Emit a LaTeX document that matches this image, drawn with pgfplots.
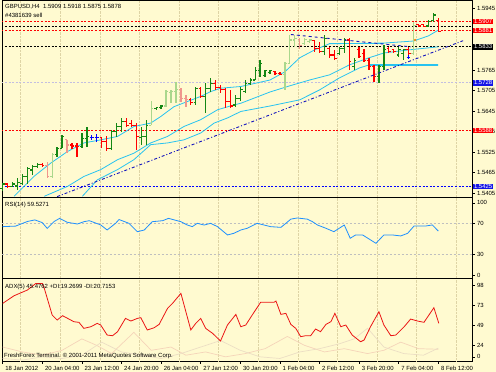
\documentclass[border=0pt]{standalone}
\usepackage{fontspec}
\setmainfont{Liberation Sans}
\usepackage{pgfplots}
\pgfplotsset{compat=1.18}
\usepackage{pgfplotstable}

\definecolor{bg}{RGB}{255,250,208}
\definecolor{gup}{RGB}{20,135,20}
\definecolor{gfade}{RGB}{170,215,140}
\definecolor{rdn}{RGB}{255,0,0}
\definecolor{rfade}{RGB}{240,150,140}
\definecolor{bbar}{RGB}{0,0,255}
\definecolor{macol}{RGB}{40,195,240}
\definecolor{rsicol}{RGB}{30,144,255}
\definecolor{adxcol}{RGB}{235,20,20}
\definecolor{gridc}{RGB}{222,212,165}
\definecolor{lav}{RGB}{195,190,225}
\definecolor{trend}{RGB}{20,20,190}
\definecolor{lblblue}{RGB}{20,20,230}
\definecolor{dip}{RGB}{245,212,185}
\definecolor{dim}{RGB}{236,222,196}

\pgfdeclareplotmark{otick}{\pgfpathmoveto{\pgfqpoint{-2.2bp}{0pt}}\pgfpathlineto{\pgfqpoint{0pt}{0pt}}\pgfusepathqstroke}
\pgfdeclareplotmark{ctick}{\pgfpathmoveto{\pgfqpoint{0pt}{0pt}}\pgfpathlineto{\pgfqpoint{2.2bp}{0pt}}\pgfusepathqstroke}

% i open high low close
\pgfplotstableread{
i o h l c
0 1.5419 1.5436 1.5410 1.5432
2 1.5424 1.5439 1.5424 1.5432
3 1.5426 1.5449 1.5415 1.5436
4 1.5434 1.5461 1.5429 1.5453
5 1.5453 1.5483 1.5432 1.5478
6 1.5473 1.5488 1.5458 1.5483
7 1.5483 1.5492 1.5478 1.5488
11 1.5517 1.5541 1.5512 1.5536
12 1.5536 1.5575 1.5536 1.5570
16 1.5541 1.5580 1.5536 1.5565
17 1.5565 1.5599 1.5541 1.5570
22 1.5536 1.5590 1.5531 1.5585
23 1.5585 1.5611 1.5570 1.5599
24 1.5599 1.5624 1.5585 1.5614
28 1.5568 1.5599 1.5546 1.5572
29 1.5572 1.5619 1.5546 1.5604
31 1.5653 1.5658 1.5648 1.5655
32 1.5655 1.5663 1.5653 1.5660
39 1.5670 1.5716 1.5663 1.5712
41 1.5687 1.5728 1.5639 1.5712
42 1.5712 1.5741 1.5702 1.5726
47 1.5663 1.5692 1.5658 1.5682
48 1.5682 1.5716 1.5676 1.5707
49 1.5702 1.5736 1.5697 1.5726
50 1.5726 1.5741 1.5721 1.5736
51 1.5736 1.5775 1.5736 1.5765
52 1.5765 1.5794 1.5746 1.5785
53 1.5750 1.5765 1.5746 1.5764
54 1.5757 1.5765 1.5755 1.5763
65 1.5819 1.5867 1.5809 1.5858
68 1.5814 1.5833 1.5809 1.5828
69 1.5828 1.5858 1.5814 1.5853
71 1.5775 1.5799 1.5765 1.5794
76 1.5746 1.5780 1.5728 1.5775
77 1.5775 1.5838 1.5764 1.5824
80 1.5809 1.5833 1.5804 1.5824
81 1.5814 1.5828 1.5794 1.5824
86 1.5894 1.5911 1.5892 1.5906
87 1.5911 1.5931 1.5906 1.5926
}\tG
\pgfplotstableread{
i o h l c
10 1.5453 1.5522 1.5449 1.5517
30 1.5604 1.5676 1.5604 1.5653
33 1.5660 1.5707 1.5658 1.5702
34 1.5700 1.5707 1.5668 1.5702
35 1.5702 1.5731 1.5668 1.5707
57 1.5752 1.5790 1.5707 1.5785
58 1.5785 1.5867 1.5785 1.5853
59 1.5853 1.5867 1.5833 1.5858
61 1.5843 1.5858 1.5838 1.5855
62 1.5848 1.5855 1.5843 1.5853
83 1.5814 1.5906 1.5809 1.5896
}\tGf
\pgfplotstableread{
i o h l c
1 1.5432 1.5434 1.5419 1.5424
8 1.5488 1.5492 1.5481 1.5485
14 1.5546 1.5551 1.5533 1.5543
15 1.5543 1.5551 1.5512 1.5541
20 1.5568 1.5570 1.5536 1.5556
21 1.5556 1.5572 1.5529 1.5536
25 1.5614 1.5624 1.5599 1.5604
26 1.5608 1.5619 1.5599 1.5604
27 1.5604 1.5609 1.5531 1.5570
38 1.5678 1.5682 1.5663 1.5670
40 1.5712 1.5716 1.5682 1.5687
43 1.5726 1.5736 1.5707 1.5715
44 1.5715 1.5721 1.5697 1.5707
45 1.5707 1.5712 1.5653 1.5673
46 1.5673 1.5707 1.5653 1.5660
55 1.5761 1.5763 1.5750 1.5755
56 1.5755 1.5760 1.5750 1.5752
63 1.5851 1.5853 1.5819 1.5828
64 1.5828 1.5848 1.5814 1.5819
66 1.5828 1.5833 1.5799 1.5809
67 1.5809 1.5824 1.5794 1.5799
70 1.5853 1.5858 1.5764 1.5790
72 1.5824 1.5833 1.5799 1.5804
73 1.5814 1.5828 1.5790 1.5794
74 1.5794 1.5799 1.5765 1.5775
75 1.5775 1.5780 1.5731 1.5746
78 1.5828 1.5833 1.5814 1.5819
79 1.5824 1.5828 1.5814 1.5819
82 1.5824 1.5833 1.5809 1.5814
84 1.5897 1.5901 1.5892 1.5894
85 1.5897 1.5900 1.5890 1.5892
88 1.5909 1.5918 1.5875 1.5878
}\tR
\pgfplotstableread{
i o h l c
9 1.5485 1.5497 1.5449 1.5453
13 1.5561 1.5561 1.5522 1.5546
36 1.5707 1.5712 1.5673 1.5682
37 1.5682 1.5692 1.5658 1.5678
60 1.5855 1.5858 1.5828 1.5838
}\tRf
\pgfplotstableread{
i o h l c
18 1.5568 1.5575 1.5561 1.5568
19 1.5568 1.5578 1.5556 1.5568
}\tB

\tikzset{
  lbl/.style={anchor=west, xshift=0.6bp, text=white, inner xsep=1.2bp, inner ysep=0.7bp, font=\fontsize{6}{7}\selectfont},
}
\pgfplotsset{
  mt/.style={
    scale only axis, width=470bp, xmin=-0.14, xmax=94.8,
    axis line style={black, line width=1bp},
    axis background/.style={fill=bg},
    tick style={black, line width=0.6bp},
    tick align=outside, major tick length=2.5bp,
    ytick pos=right, yticklabel pos=right,
    tick label style={font=\fontsize{6}{7}\selectfont},
    yticklabel style={xshift=-1bp},
    /pgf/number format/assume math mode=true,
    scaled y ticks=false,
    clip mode=individual,
    extra x ticks={3.6,11.6,19.6,27.6,35.6,43.6,51.6,59.6,67.6,75.6,83.6,91.6},
    extra x tick labels={},
    extra x tick style={grid=major, major tick length=0pt},
    major grid style={gridc, densely dotted, line width=0.4bp},
  },
  bar/.style={only marks, #1, mark=otick, mark options={line width=1.1bp},
    error bars/.cd, y dir=both, y explicit, error mark=none,
    error bar style={line width=1.3bp, #1}},
  cbar/.style={only marks, #1, mark=ctick, mark options={line width=1.1bp}},
  lvl/.style={line width=0.8bp, dash pattern=on 2bp off 1.6bp},
}

\begin{document}
\begin{tikzpicture}
\fill[bg] (0,0) rectangle (496bp,372bp);

% ---------- main price panel ----------
\begin{axis}[mt, at={(2bp,174bp)}, anchor=south west, height=197bp,
  ymin=1.5391, ymax=1.5967, xtick=\empty,
  ytick={1.5405,1.5465,1.5525,1.5585,1.5645,1.5705,1.5765,1.5825,1.5885,1.5945},
  yticklabels={1.5405,1.5465,1.5525,1.5585,1.5645,1.5705,1.5765,,,1.5945}]
\addplot[rdn, lvl] coordinates {(-1,1.5907) (96,1.5907)};
\addplot[black, lvl] coordinates {(-1,1.5893) (96,1.5893)};
\addplot[rdn, lvl] coordinates {(-1,1.5881) (96,1.5881)};
\addplot[black, lvl] coordinates {(-1,1.5833) (96,1.5833)};
\addplot[lav, lvl] coordinates {(-1,1.5728) (96,1.5728)};
\addplot[rdn, lvl] coordinates {(-1,1.5588) (96,1.5588)};
\addplot[bbar, lvl] coordinates {(-1,1.5425) (96,1.5425)};
% moving averages
\addplot[macol, line width=0.8bp] coordinates {
(2.3,1.5396) (6.3,1.5454) (9.7,1.5493) (13.1,1.5527) (16.4,1.5552) (19.8,1.5561)
(23.2,1.5571) (26.5,1.5600) (29.9,1.5610) (31.9,1.5629) (34.6,1.5658) (37.3,1.5673)
(40,1.5688) (42,1.5702) (44,1.5712) (48.1,1.5717) (54,1.5736) (57,1.5760)
(60,1.5801) (63,1.5824) (66,1.5842) (77,1.5844) (83,1.5850) (86,1.5865) (88,1.5882)};
\addplot[macol, line width=0.8bp] coordinates {
(8.4,1.5396) (13.1,1.5425) (16.4,1.5454) (19.8,1.5474) (23.2,1.5503) (26.5,1.5522)
(29.9,1.5552) (33.3,1.5571) (36.6,1.5600) (40,1.5620) (43.4,1.5649) (46.7,1.5663)
(48.1,1.5668) (54,1.5701) (58,1.5719) (62,1.5736) (66,1.5751) (70,1.5780)
(74,1.5801) (77,1.5815) (82,1.5824) (88,1.5833)};
\addplot[macol, line width=0.8bp] coordinates {
(16.1,1.5396) (19.1,1.5444) (23.2,1.5474) (26.5,1.5503) (29.9,1.5547) (33.3,1.5552)
(36.6,1.5561) (40,1.5581) (42.7,1.5610) (45.4,1.5625) (48.1,1.5644) (54,1.5660)
(60,1.5678) (64,1.5707) (68,1.5742) (72,1.5771) (74,1.5780) (88,1.5780)};
\addplot[macol, line width=1.8bp] coordinates {(66,1.5843) (77,1.5843)};
\addplot[macol, line width=1.8bp] coordinates {(74,1.5780) (88,1.5780)};
% bars
\addplot[bar=gfade] table[x=i, y=o, y error plus expr=\thisrow{h}-\thisrow{o}, y error minus expr=\thisrow{o}-\thisrow{l}] {\tGf};
\addplot[cbar=gfade] table[x=i, y=c] {\tGf};
\addplot[bar=rfade] table[x=i, y=o, y error plus expr=\thisrow{h}-\thisrow{o}, y error minus expr=\thisrow{o}-\thisrow{l}] {\tRf};
\addplot[cbar=rfade] table[x=i, y=c] {\tRf};
\addplot[bar=gup] table[x=i, y=o, y error plus expr=\thisrow{h}-\thisrow{o}, y error minus expr=\thisrow{o}-\thisrow{l}] {\tG};
\addplot[cbar=gup] table[x=i, y=c] {\tG};
\addplot[bar=rdn] table[x=i, y=o, y error plus expr=\thisrow{h}-\thisrow{o}, y error minus expr=\thisrow{o}-\thisrow{l}] {\tR};
\addplot[cbar=rdn] table[x=i, y=c] {\tR};
\addplot[bar=bbar] table[x=i, y=o, y error plus expr=\thisrow{h}-\thisrow{o}, y error minus expr=\thisrow{o}-\thisrow{l}] {\tB};
\addplot[cbar=bbar] table[x=i, y=c] {\tB};
% trend lines
\addplot[trend, line width=0.9bp, dash pattern=on 3bp off 2bp on 1bp off 2bp] coordinates {(11,1.5395) (93,1.5851)};
\addplot[trend, line width=0.9bp, dash pattern=on 3bp off 3bp] coordinates {(58.2,1.5869) (82.4,1.5833)};
\addplot[only marks, bbar, mark=+, mark size=1.6bp, line width=0.8bp] coordinates {(81.9,1.5803)};
\addplot[only marks, orange, mark=*, mark size=0.9bp] coordinates {(83.3,1.5853)};
% level labels
\node[lbl, fill=rdn] at (axis cs:94.8,1.5907) {1.5907};
\node[lbl, fill=rdn] at (axis cs:94.8,1.5881) {1.5881};
\node[lbl, fill=black] at (axis cs:94.8,1.5833) {1.5833};
\node[lbl, fill=lblblue] at (axis cs:94.8,1.5728) {1.5728};
\node[lbl, fill=rdn] at (axis cs:94.8,1.5588) {1.5588};
\node[lbl, fill=lblblue] at (axis cs:94.8,1.5425) {1.5425};
\end{axis}

% ---------- RSI panel ----------
\begin{axis}[mt, at={(2bp,93bp)}, anchor=south west, height=81bp,
  ymin=-2.3, ymax=102.3, xtick=\empty,
  ytick={2.5,30,70,96}, yticklabels={0,30,70,100}]
\addplot[black!25, line width=0.6bp, dash pattern=on 2bp off 2bp] coordinates {(-1,30) (96,30)};
\addplot[black!25, line width=0.6bp, dash pattern=on 2bp off 2bp] coordinates {(-1,70) (96,70)};
\addplot[rsicol, line width=0.8bp] coordinates {
(0,65.3) (2.6,66) (5.0,72) (6.5,74) (8.0,70.5) (9.0,63) (10.4,72) (11.5,76) (13.0,71)
(15.1,68.7) (16.4,71.7) (17.5,73) (19.8,67.5) (21.1,61) (22.8,69.6) (23.5,74.5) (25.5,69.6)
(27.2,58.8) (28.6,61) (30.2,71.7) (32.3,73) (33.5,76) (36.0,71.7) (37.3,67.4) (38.3,65.3)
(39.3,69.6) (40.7,67.4) (42.0,69.6) (43.4,65.3) (45.4,54.6) (46.7,56.7) (48.1,61) (49.4,63.2)
(51.4,69.6) (52.8,67.4) (54.1,65.3) (56.2,64.4) (57.2,69.6) (58.2,75) (59.5,76.5) (61.5,75)
(62.5,72) (63.6,67.4) (65.3,63.2) (66.9,58.8) (69.0,67.4) (70.2,50.3) (71.3,54.6) (72.7,54.6)
(75.4,43.8) (77.0,54.6) (78.7,54.6) (80.4,53.3) (81.8,56.7) (83.1,66.2) (85.5,66.2)
(86.8,67.5) (88.0,59.5)};
\end{axis}

% ---------- ADX panel ----------
\begin{axis}[mt, at={(2bp,11bp)}, anchor=south west, height=82bp,
  ymin=4.9, ymax=105.4,
  xtick={0,8,16,24,32,40,48,56,64,72,80,88}, xtick pos=bottom,
  xticklabels={18 Jan 2012,20 Jan 04:00,23 Jan 12:00,24 Jan 20:00,26 Jan 04:00,27 Jan 12:00,30 Jan 20:00,1 Feb 04:00,2 Feb 12:00,3 Feb 20:00,7 Feb 04:00,8 Feb 12:00},
  xticklabel style={anchor=north west, xshift=-0.8bp, yshift=0.8bp},
  ytick={10,24,49,73,98}, yticklabels={0,24,49,73,98}]
\addplot[dip, line width=0.7bp] coordinates {
(0,22) (4,16) (8,12) (12,18) (16,32) (19,24) (22,14) (26.5,40) (30,18) (34,22) (37,12)
(41,16) (45,10) (49,14) (53,20) (57.5,35) (61,24) (65,16) (69,20) (73.7,14) (77,18)
(80.4,28) (84,20) (88,19.3)};
\addplot[dim, line width=0.7bp] coordinates {
(0,8) (4,6) (8,10) (12,8) (16,12) (20,28) (24,16) (28,12) (32,8) (36,14) (40,22) (44,30)
(48,18) (52,10) (56,8) (60,16) (64,20) (68,26) (71,32) (73.7,45) (77,22) (81,14) (85,12)
(88,20.7)};
\addplot[adxcol, line width=0.8bp] coordinates {
(0,75.5) (2.3,84.9) (5.0,91.9) (6.7,100) (8.0,100) (8.4,94) (10.0,61.2) (11.0,55.1)
(12.1,60.4) (13.1,57.2) (14.4,53.0) (15.4,52.3) (16.4,44.9) (17.8,46.9) (19.1,51.0)
(19.8,49) (21.1,36.7) (22.2,35.9) (23.2,40.8) (24.8,57.1) (25.9,53.9) (27.2,57.1)
(27.9,58) (29.2,42.9) (30.6,45.7) (31.6,49.8) (33.3,69.4) (34.3,75.5) (36.0,87.8)
(38.0,42.9) (39.0,51.0) (40.0,57.1) (41.0,44.9) (42.4,38.8) (44.0,29.4) (45.4,49.0)
(47.1,62.0) (48.1,46.9) (49.1,49.0) (50.4,61.2) (52.1,76.8) (54.8,76.8) (55.2,78.4)
(56.2,62.0) (57.2,63.3) (58.2,49.8) (59.2,44.9) (60.2,34.7) (61.2,35.9) (62.2,35.9)
(63.2,44.1) (64.2,40.8) (65.3,49.8) (66.3,53.1) (67.1,63.3) (68.3,46.9) (69.3,49.0)
(70.6,36.7) (72.3,28.5) (73.0,30.6) (74.3,46.9) (76.0,65.3) (77.0,49.0) (78.4,35.9)
(79.4,36.7) (81.1,46.9) (82.4,56.3) (83.8,53.9) (85.1,52.3) (87.1,70.2) (88.1,51.0)};
\end{axis}

% ---------- texts ----------
\begin{scope}[every node/.style={anchor=west, inner sep=0pt, font=\fontsize{6}{7}\selectfont}]
\node at (5bp,365bp) {GBPUSD,H4\ \ 1.5909 1.5918 1.5875 1.5878};
\node at (5bp,356.3bp) {\#4381639 sell};
\node at (5bp,167bp) {RSI(14) 59.5271};
\node at (5bp,85.3bp) {ADX(5) 45.4762 +DI:19.2699 -DI:20.7153};
\node at (4bp,16bp) {FreshForex Terminal. © 2001-2011 MetaQuotes Software Corp.};
\end{scope}

\pgfresetboundingbox
\path[use as bounding box] (0,0) rectangle (496bp,372bp);
\end{tikzpicture}
\end{document}
